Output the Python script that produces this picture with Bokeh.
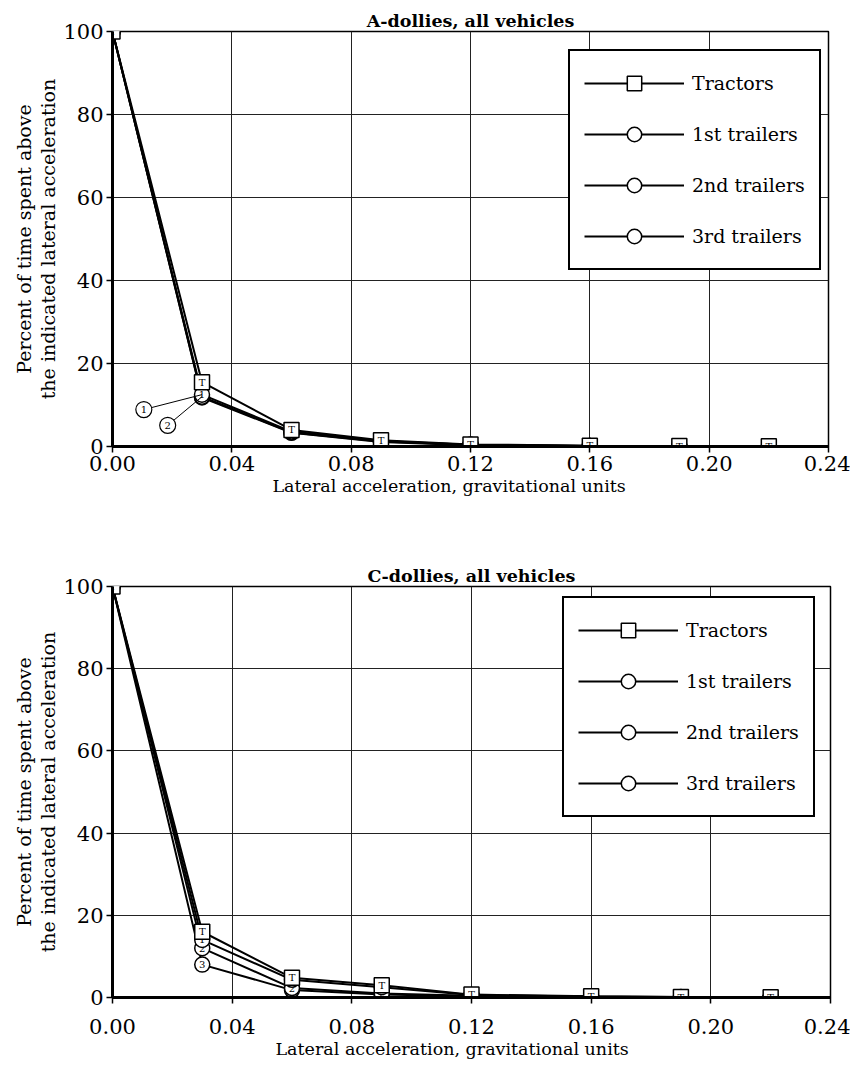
from bokeh.plotting import figure
from bokeh.models import ColumnDataSource, Range1d, Legend, LegendItem, Title, FixedTicker
from bokeh.layouts import column
from bokeh.embed import file_html
from bokeh.resources import INLINE
from bokeh.core.properties import value

# ---------------- data ----------------
accel = [0.0, 0.03, 0.06, 0.09, 0.12, 0.16, 0.19, 0.22, 0.24]

a_tractors = [100, 15.5, 4.0, 1.5, 0.5, 0.2, 0.1, 0.05, 0.0]
a_trailer1 = [100, 12.5, 3.6, 1.3, 0.4, 0.15, 0.08, 0.04, 0.0]
a_trailer2 = [100, 12.0, 3.4, 1.2, 0.4, 0.15, 0.08, 0.04, 0.0]
a_trailer3 = [100, 11.8, 3.3, 1.1, 0.3, 0.1, 0.05, 0.03, 0.0]

c_tractors = [100, 16.0, 4.8, 3.0, 0.7, 0.3, 0.1, 0.05, 0.0]
c_trailer1 = [100, 14.0, 4.3, 2.5, 0.6, 0.25, 0.1, 0.05, 0.0]
c_trailer2 = [100, 12.0, 2.3, 1.0, 0.4, 0.2, 0.08, 0.04, 0.0]
c_trailer3 = [100, 8.0, 1.8, 0.7, 0.3, 0.15, 0.05, 0.03, 0.0]

series_names = ["Tractors", "1st trailers", "2nd trailers", "3rd trailers"]
marker_labels = ["T", "1", "2", "3"]
marker_types = ["square", "circle", "circle", "circle"]

a_callout_labels = ["1", "2"]
a_callout_x = [0.0105, 0.0185]
a_callout_y = [8.9, 5.1]
a_callout_target_x = [0.03, 0.03]
a_callout_target_y = [12.5, 12.0]

x_ticks = [0.0, 0.04, 0.08, 0.12, 0.16, 0.20, 0.24]
x_tick_labels = ["0.00", "0.04", "0.08", "0.12", "0.16", "0.20", "0.24"]
y_ticks = [0, 20, 40, 60, 80, 100]
y_tick_labels = ["0", "20", "40", "60", "80", "100"]

title_a = "A-dollies, all vehicles"
title_c = "C-dollies, all vehicles"
x_label = "Lateral acceleration, gravitational units"
y_label = "Percent of time spent above\nthe indicated lateral acceleration"

FONT = "DejaVu Serif"


def make_chart(title, series, frame_w, frame_h, borders, legend_loc,
               tick_standoff, xlabel_offset, callouts=None):
    bl, br, bt, bb = borders
    p = figure(frame_width=frame_w, frame_height=frame_h,
               x_range=Range1d(0, 0.24), y_range=Range1d(0, 100),
               output_backend="svg", toolbar_location=None,
               min_border_left=bl, min_border_right=br,
               min_border_top=bt, min_border_bottom=bb,
               background_fill_color="white", border_fill_color="white")
    p.title.text = title
    p.title.align = "center"
    p.title.text_font = FONT
    p.title.text_font_size = "17.5px"
    p.title.text_font_style = "bold"
    p.title.text_color = "black"
    p.title.standoff = 2

    p.outline_line_color = "black"
    p.outline_line_width = 1.5
    p.outline_line_alpha = 1.0

    p.xaxis.ticker = FixedTicker(ticks=x_ticks)
    p.yaxis.ticker = FixedTicker(ticks=y_ticks)
    p.xaxis.major_label_overrides = dict(zip(x_ticks, x_tick_labels))
    p.yaxis.major_label_overrides = dict(zip(y_ticks, y_tick_labels))
    p.xgrid.ticker = FixedTicker(ticks=x_ticks)
    p.ygrid.ticker = FixedTicker(ticks=y_ticks)
    for g in (p.xgrid, p.ygrid):
        g.grid_line_color = "#222222"
        g.grid_line_width = 1
    for ax in (p.xaxis, p.yaxis):
        ax.axis_line_width = 3
        ax.axis_line_color = "black"
        ax.major_tick_line_color = "black"
        ax.major_tick_line_width = 1.5
        ax.major_tick_out = 6
        ax.major_tick_in = 0
        ax.minor_tick_line_color = None
        ax.major_label_text_font = FONT
        ax.major_label_text_font_size = "21px"
        ax.major_label_text_color = "black"
        ax.axis_label_text_font = FONT
        ax.axis_label_text_font_style = "normal"
        ax.axis_label_text_color = "black"
    p.xaxis.major_label_standoff = tick_standoff
    p.yaxis.axis_label = y_label
    p.yaxis.axis_label_text_font_size = "19px"
    p.yaxis.axis_label_text_line_height = 1.1
    p.yaxis.major_label_standoff = 3
    p.yaxis.axis_label_standoff = 1

    # x-axis title (placed slightly left of centre, as in the original)
    p.add_layout(Title(text=x_label, align="left", offset=xlabel_offset,
                       text_font=FONT, text_font_size="17.5px",
                       text_font_style="normal", text_color="black",
                       standoff=0), "below")

    # lines
    line_rs = []
    for vals in series:
        r = p.line(accel, vals, line_color="black", line_width=2)
        line_rs.append(r)

    # markers (drawn 3rd -> tractors so tractor squares are on top)
    marker_rs = [None] * 4
    for i in [3, 2, 1, 0]:
        src = ColumnDataSource(dict(x=accel[:-1], y=series[i][:-1],
                                    lbl=[marker_labels[i]] * (len(accel) - 1)))
        mr = p.scatter("x", "y", source=src, marker=marker_types[i], size=15,
                       fill_color="white", line_color="black", line_width=1.5)
        p.text("x", "y", text="lbl", source=src, text_align="center",
               text_baseline="middle", text_font=value(FONT),
               text_font_size="10px", text_color="black")
        marker_rs[i] = mr

    # callouts
    if callouts is not None:
        labels, cx, cy, tx, ty = callouts
        csrc = ColumnDataSource(dict(x=cx, y=cy, tx=tx, ty=ty, lbl=labels))
        p.segment("x", "y", "tx", "ty", source=csrc, line_color="black", line_width=1)
        p.scatter("x", "y", source=csrc, marker="circle", size=16,
                  fill_color="white", line_color="black", line_width=1.2)
        p.text("x", "y", text="lbl", source=csrc, text_align="center",
               text_baseline="middle", text_font=value(FONT),
               text_font_size="10px", text_color="black")

    items = [LegendItem(label=series_names[i], renderers=[line_rs[i], marker_rs[i]])
             for i in range(4)]
    legend = Legend(items=items, location=legend_loc,
                    padding=14, spacing=15, glyph_width=100,
                    glyph_height=36, label_height=36, label_standoff=8,
                    label_text_font=FONT, label_text_font_size="19px",
                    label_text_color="black",
                    border_line_color="black", border_line_width=2,
                    border_line_alpha=1.0,
                    background_fill_color="white", background_fill_alpha=1.0,
                    margin=0)
    p.add_layout(legend, "center")
    return p


p1 = make_chart(title_a, [a_tractors, a_trailer1, a_trailer2, a_trailer3],
                716, 415, (112, 22, 31, 99), (456, 176), 3, 160,
                callouts=(a_callout_labels, a_callout_x, a_callout_y,
                          a_callout_target_x, a_callout_target_y))
p2 = make_chart(title_c, [c_tractors, c_trailer1, c_trailer2, c_trailer3],
                718, 411, (109, 23, 41, 73), (450, 180), 15, 163)

layout = column(p1, p2, spacing=0)
open("out.html", "w").write(file_html(layout, INLINE))
